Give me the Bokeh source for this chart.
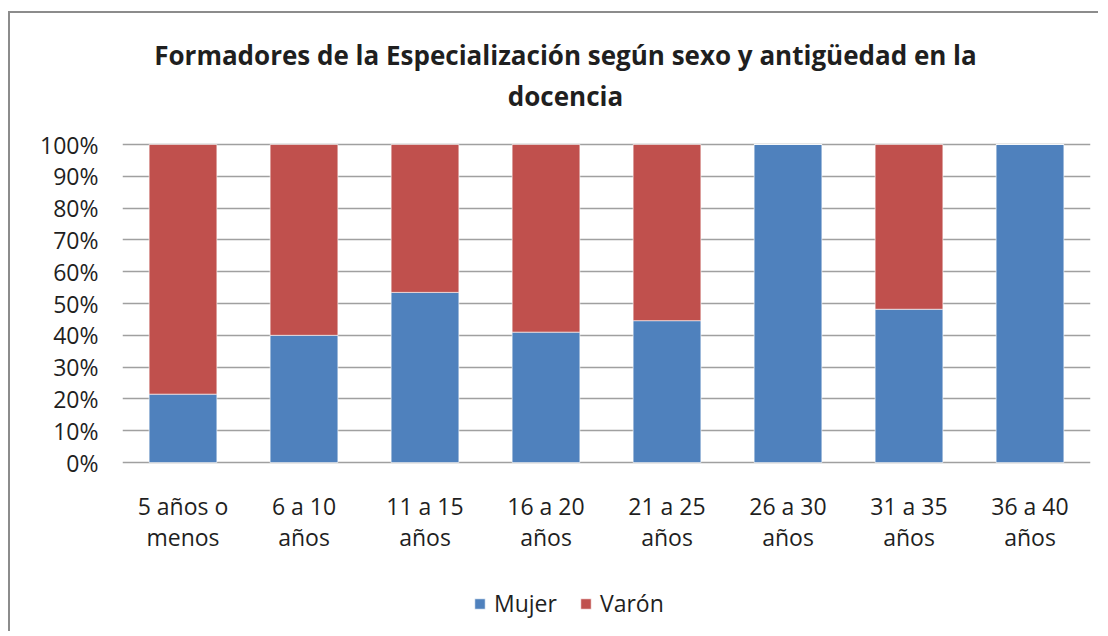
from bokeh.plotting import figure
from bokeh.models import (Range1d, NumeralTickFormatter, FixedTicker,
                          Label, Legend, LegendItem, ColumnDataSource)
from bokeh.embed import file_html
from bokeh.resources import INLINE

categories = ["5 años o menos", "6 a 10 años", "11 a 15 años", "16 a 20 años",
              "21 a 25 años", "26 a 30 años", "31 a 35 años", "36 a 40 años"]
label_line1 = ["5 años o", "6 a 10", "11 a 15", "16 a 20", "21 a 25", "26 a 30", "31 a 35", "36 a 40"]
label_line2 = ["menos", "años", "años", "años", "años", "años", "años", "años"]
mujer = [0.215, 0.40, 0.535, 0.41, 0.446, 1.0, 0.482, 1.0]
varon = [1 - m for m in mujer]
y_ticks = [0, 0.1, 0.2, 0.3, 0.4, 0.5, 0.6, 0.7, 0.8, 0.9, 1.0]
title_lines = ["Formadores de la Especialización según sexo y antigüedad en la", "docencia"]
series_names = ["Mujer", "Varón"]
colors = ["#4F81BD", "#C0504D"]

FONT = "Open Sans"
TEXT = "#1f1f1f"
FS = "23px"

src = ColumnDataSource(dict(cat=categories, Mujer=mujer, Varón=varon,
                            l1=label_line1, l2=label_line2))

# frame spans the full canvas height; the 0..100% band sits in the middle
p = figure(x_range=categories, y_range=Range1d(-0.5377, 1.412), width=1090, height=620,
           output_backend="svg", toolbar_location=None, x_axis_location=None,
           min_border_left=112, min_border_right=10, min_border_top=0, min_border_bottom=0)
p.outline_line_color = None
p.styles = {"border-left": "2px solid #8c8c8c", "border-top": "2px solid #8c8c8c",
            "margin-top": "11px", "margin-left": "8px"}

rs = p.vbar_stack(series_names, x="cat", width=0.56, source=src, color=colors,
                  line_color="white", line_width=0.6)

p.xgrid.grid_line_color = None
p.ygrid.ticker = FixedTicker(ticks=y_ticks)
p.ygrid.grid_line_color = "#a0a0a0"
p.ygrid.grid_line_width = 1.5
p.ygrid.level = "underlay"

ya = p.yaxis[0]
ya.ticker = FixedTicker(ticks=y_ticks)
ya.formatter = NumeralTickFormatter(format="0%")
ya.axis_line_color = None
ya.major_tick_line_color = None
ya.minor_tick_line_color = None
ya.major_tick_out = 0
ya.major_tick_in = 0
ya.major_label_standoff = 24
ya.major_label_text_font = FONT
ya.major_label_text_font_size = FS
ya.major_label_text_color = TEXT

# category labels (two lines) under the bars
for col, yy in (("l1", -0.1352), ("l2", -0.2358)):
    p.text(x="cat", y=yy, text=col, source=src, text_align="center", text_baseline="middle",
           text_font={"value": FONT}, text_font_size=FS, text_color=TEXT)

# title
for t, yy in zip(title_lines, (1.280, 1.154)):
    p.add_layout(Label(x=3.661, y=yy, text=t, text_align="center", text_baseline="middle",
                       text_font=FONT, text_font_style="bold", text_font_size="26px",
                       text_color=TEXT))

legend = Legend(items=[LegendItem(label=n, renderers=[r]) for n, r in zip(series_names, rs)],
                orientation="horizontal", location=(351, 14), background_fill_alpha=0,
                border_line_color=None, label_text_font=FONT, label_text_font_size=FS,
                label_text_color=TEXT, glyph_width=13, glyph_height=13, spacing=22,
                label_standoff=8, padding=0, margin=0)
p.add_layout(legend, "center")

open("out.html", "w").write(file_html(p, INLINE))
